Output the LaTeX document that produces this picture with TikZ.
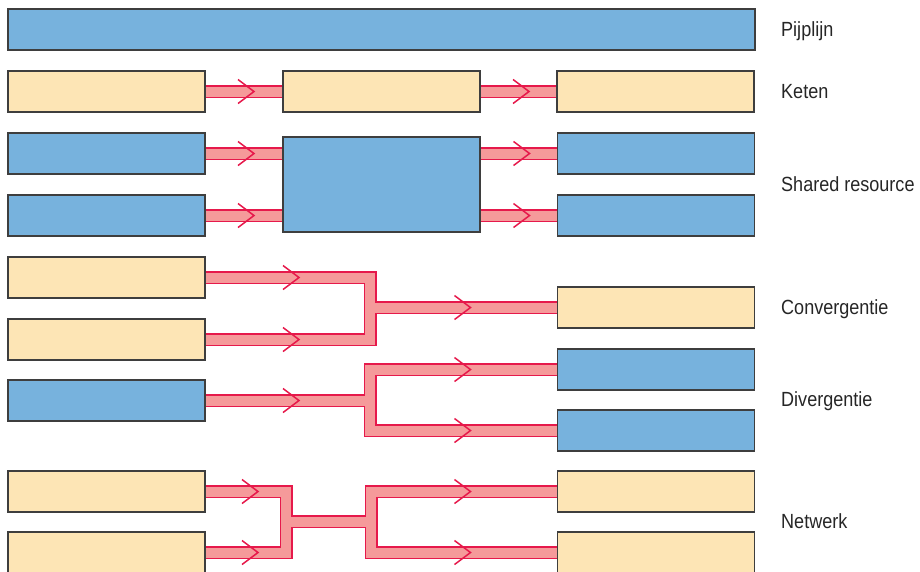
\documentclass[tikz,border=0pt]{standalone}
\usepackage{fontspec}
\newfontfamily\labelfont[FakeStretch=0.88]{Liberation Sans}
\usetikzlibrary{calc,positioning,backgrounds}
\definecolor{boxBlue}{RGB}{119,178,221}
\definecolor{boxCream}{RGB}{253,229,181}
\definecolor{boxLine}{RGB}{62,62,62}
\definecolor{pipePink}{RGB}{245,154,154}
\definecolor{pipeRed}{RGB}{230,25,75}
\tikzset{
myBox/.style={
	rectangle,draw=boxLine,line width=1.6pt,
	inner sep=0pt,outer sep=0pt,minimum width=197pt,minimum height=41pt
}
, myBlue/.style={myBox,fill=boxBlue}
, myCream/.style={myBox,fill=boxCream}
, myLabel/.style={
	anchor=base west,inner sep=0pt,text=black!85,
	font=\labelfont\fontsize{20.5}{24}\selectfont
}
% pipes
, myPipe/.style={line join=miter,line cap=butt}
, myChev/.pic={
	\draw[pipeRed,line width=1.5pt] (-16,-12) -- (0,0) -- (-16,12);
}
}

\begin{document}
\begin{tikzpicture}[x=1pt,y=-1pt]
	\useasboundingbox (0,0) rectangle (920,571);
	% pijplijn
	\node[myBlue,minimum width=747pt] (P) at (381.5,29.5) {};
	% keten
	\node[myCream] (K1) at (106.5,91.5) {};
	\node[myCream] (K2) [right=78pt of K1] {};
	\node[myCream] (K3) [right=77pt of K2] {};
	% shared resource
	\node[myBlue] (S1) at (106.5,153.5) {};
	\node[myBlue] (S2) at (106.5,215.5) {};
	\node[myBlue,minimum height=95pt] (SC) at (381.5,184.5) {};
	\node[myBlue] (S3) at (656,153.5) {};
	\node[myBlue] (S4) at (656,215.5) {};
	% convergentie
	\node[myCream] (C1) at (106.5,277.5) {};
	\node[myCream] (C2) at (106.5,339.5) {};
	\node[myCream] (C3) at (656,307.5) {};
	\coordinate (CJ) at (370,307.5);
	% divergentie
	\node[myBlue] (D1) at (106.5,400.5) {};
	\node[myBlue] (D2) at (656,369.5) {};
	\node[myBlue] (D3) at (656,430.5) {};
	\coordinate (DJ) at (370,400.5);
	% netwerk
	\node[myCream] (N1) at (106.5,491.5) {};
	\node[myCream] (N2) at (106.5,552.5) {};
	\node[myCream] (N3) at (656,491.5) {};
	\node[myCream] (N4) at (656,552.5) {};
	\coordinate (NL) at (286,521.5);
	\coordinate (NR) at (371,521.5);

	% pipes: red outline first, pink filling on top
	\begin{scope}[on background layer]
	\foreach \w/\c in {13pt/pipeRed,10pt/pipePink}{
		\draw[myPipe,line width=\w,draw=\c]
			(K1.east) -- (K2.west) (K2.east) -- (K3.west)
			(S1.east) -- (S1.east -| SC.west) (S2.east) -- (S2.east -| SC.west)
			(S3.west -| SC.east) -- (S3.west) (S4.west -| SC.east) -- (S4.west)
			(C1.east) -| (CJ) -- (C3.west) (C2.east) -| (CJ)
			(D1.east) -- (DJ) |- (D2.west) (DJ) |- (D3.west)
			(N1.east) -| (NL) -- (NR) |- (N3.west) (N2.east) -| (NL) (NR) |- (N4.west);
	}
	\end{scope}

	% arrow heads
	\foreach \a in {K1,K2,S1,S2} \pic at ($(\a.east)+(49,0)$) {myChev};
	\foreach \a in {S3,S4} \pic at ($(\a.west)+(-28,0)$) {myChev};
	\foreach \a in {C1,C2,D1} \pic at ($(\a.east)+(94,0)$) {myChev};
	\foreach \a in {N1,N2} \pic at ($(\a.east)+(53,0)$) {myChev};
	\foreach \a in {C3,D2,D3,N3,N4} \pic at ($(\a.west)+(-87,0)$) {myChev};

	% labels
	\node[myLabel] (lP) at (781,36.5) {Pijplijn};
	\node[myLabel] (lK) at (781,98.5) {Keten};
	\node[myLabel] (lS) at (781,191.5) {Shared resource};
	\node[myLabel] (lC) at (781,314.5) {Convergentie};
	\node[myLabel] (lD) at (781,406.5) {Divergentie};
	\node[myLabel] (lN) at (781,528.5) {Netwerk};
\end{tikzpicture}
\end{document}
